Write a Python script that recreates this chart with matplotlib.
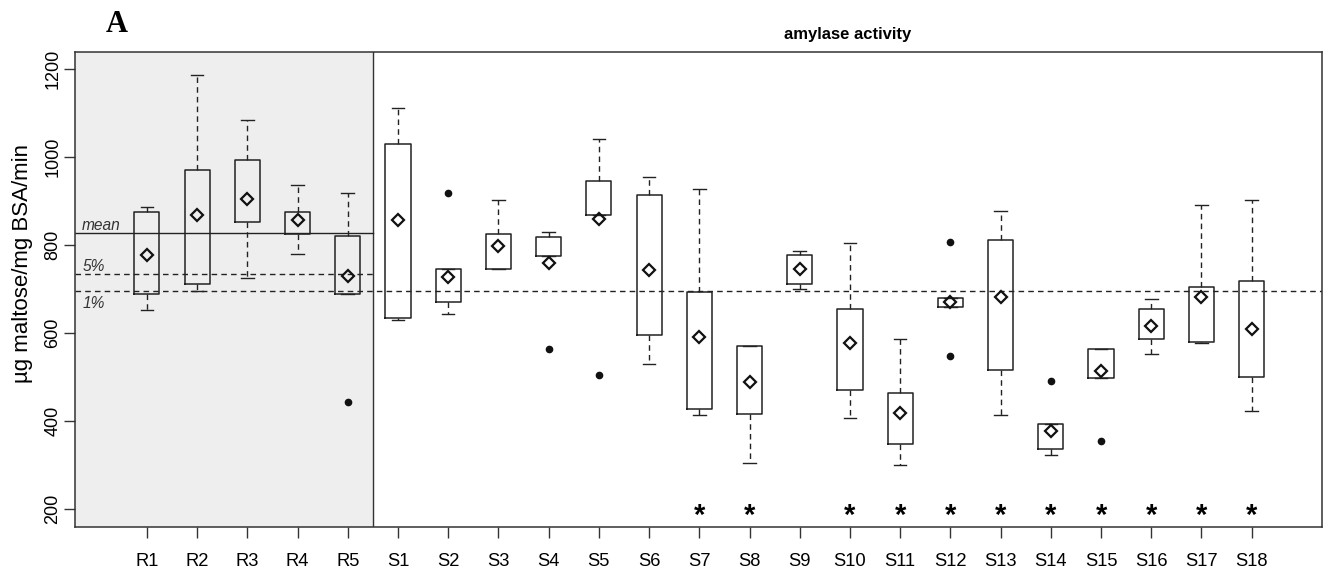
import numpy as np
import matplotlib
matplotlib.use("Agg")
import matplotlib.pyplot as plt

plt.rcParams['font.family'] = ['Liberation Sans', 'DejaVu Sans']

# data
groups = ['R1', 'R2', 'R3', 'R4', 'R5',
          'S1', 'S2', 'S3', 'S4', 'S5', 'S6', 'S7', 'S8', 'S9',
          'S10', 'S11', 'S12', 'S13', 'S14', 'S15', 'S16', 'S17', 'S18']
q1 = [689, 713, 854, 825, 690,
      634, 671, 745, 775, 868, 595, 427, 416, 713,
      470, 348, 659, 516, 336, 498, 586, 579, 500]
q3 = [875, 970, 993, 875, 820,
      1031, 745, 825, 818, 947, 915, 693, 570, 777,
      656, 464, 681, 813, 394, 564, 656, 704, 718]
whislo = [652, 697, 725, 779, 690,
          630, 643, 745, 775, 868, 530, 414, 305, 700,
          407, 300, 659, 414, 324, 498, 552, 578, 423]
whishi = [887, 1188, 1084, 938, 918,
          1113, 745, 904, 831, 1042, 956, 927, 572, 788,
          804, 587, 681, 879, 394, 564, 677, 891, 903]
means = [778, 869, 905, 857, 729,
         857, 727, 798, 760, 859, 744, 591, 488, 747,
         577, 419, 672, 682, 377, 515, 616, 683, 609]
outliers = {'R5': [443], 'S2': [919], 'S4': [565], 'S5': [506],
            'S12': [807, 549], 'S14': [492], 'S15': [354]}
significant = ['S7', 'S8', 'S10', 'S11', 'S12', 'S13', 'S14', 'S15',
               'S16', 'S17', 'S18']
ref_mean = 827
ref_5 = 734
ref_1 = 695
n_ref = 5

stats = []
for i, g in enumerate(groups):
    stats.append({'label': g, 'q1': q1[i], 'q3': q3[i], 'med': q1[i],
                  'whislo': whislo[i], 'whishi': whishi[i],
                  'mean': means[i], 'fliers': outliers.get(g, [])})

fig = plt.figure(figsize=(13.26, 5.75), dpi=100)
ax = fig.add_axes([0.0566, 0.084, 0.9404, 0.826])

pos = np.arange(1, len(groups) + 1)
ax.set_xlim(-0.43, 24.4)
ax.set_ylim(160, 1240)

# shaded reference region
ax.axvspan(-0.43, n_ref + 0.5, color='#eeeeee', zorder=0)
ax.axvline(n_ref + 0.5, color='#333333', lw=1)

ax.bxp(stats, positions=pos, widths=0.5, showmeans=True,
       boxprops=dict(color='#222222', lw=1.1),
       whiskerprops=dict(color='#222222', lw=1, linestyle=(0, (4, 3))),
       capprops=dict(color='#222222', lw=1),
       medianprops=dict(lw=0),
       meanprops=dict(marker='D', markersize=6.5, markerfacecolor='none',
                      markeredgecolor='#111111', markeredgewidth=1.6),
       flierprops=dict(marker='o', markersize=4.5, markerfacecolor='#111111',
                       markeredgecolor='#111111'),
       zorder=3)

# reference lines
xr = (n_ref + 0.5 + 0.43) / (24.4 + 0.43)
ax.axhline(ref_mean, xmin=0, xmax=xr, color='#222222', lw=1)
ax.axhline(ref_5, xmin=0, xmax=xr, color='#222222', lw=1, linestyle=(0, (4, 3)))
ax.axhline(ref_1, color='#222222', lw=1, linestyle=(0, (4, 3)))
ax.text(-0.3, ref_mean + 8, 'mean', style='italic', fontsize=11.2, color='#333333')
ax.text(-0.28, ref_5 + 8, '5%', style='italic', fontsize=11.2, color='#333333')
ax.text(-0.28, ref_1 - 10, '1%', style='italic', fontsize=11.2, color='#333333', va='top')

# significance stars
for g in significant:
    ax.text(groups.index(g) + 1, 184, '*', ha='center', va='center',
            fontsize=21, fontweight='bold')

ax.set_xticks(pos)
ax.set_xticklabels(groups, fontsize=13.2)
ax.set_yticks([200, 400, 600, 800, 1000, 1200])
ax.set_yticklabels(['200', '400', '600', '800', '1000', '1200'],
                   rotation=90, va='center', fontsize=13)
ax.tick_params(length=8, width=1, color='#333333')
ax.tick_params(axis='y', pad=2)
ax.tick_params(axis='x', pad=11)
for s in ax.spines.values():
    s.set_color('#333333')
    s.set_linewidth(1.1)

ax.set_ylabel('µg maltose/mg BSA/min', fontsize=16)
ax.yaxis.set_label_coords(-0.034, 0.555)
ax.text((n_ref + 0.5 + 24.4) / 2, 1262, 'amylase activity', ha='center',
        va='bottom', fontsize=12, fontweight='bold')
fig.text(0.080, 0.958, 'A', fontsize=22, fontweight='bold',
         family='Liberation Serif', va='center')

fig.savefig('out.png', dpi=100)
